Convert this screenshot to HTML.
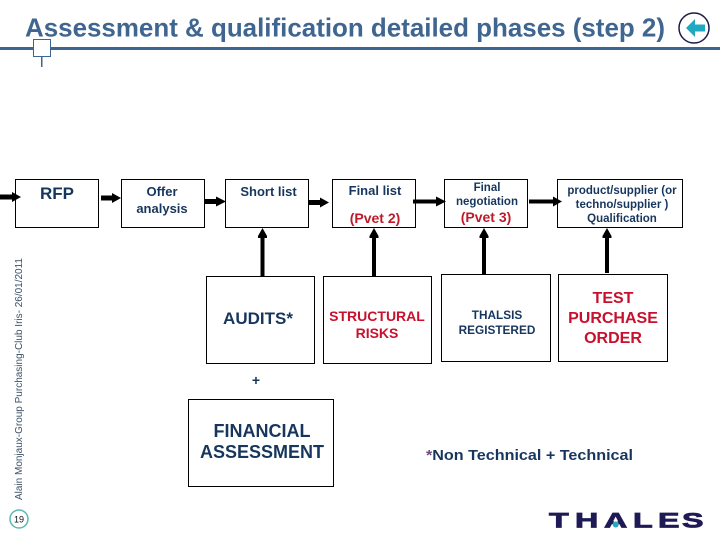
<!DOCTYPE html>
<html><head><meta charset="utf-8"><style>html,body{margin:0;padding:0;background:#fff}svg{display:block}text{font-family:"Liberation Sans",sans-serif}</style></head><body>
<svg width="720" height="540" viewBox="0 0 720 540" xmlns="http://www.w3.org/2000/svg">
<text x="25" y="36.500" font-size="26" font-weight="bold" fill="#3f6690" textLength="640" lengthAdjust="spacingAndGlyphs">Assessment &amp; qualification detailed phases (step 2)</text>
<rect x="0" y="47" width="720" height="3" fill="#3f6690"/>
<rect x="33.500" y="39.500" width="17" height="17" fill="#fff" stroke="#3f6690" stroke-width="1"/>
<rect x="41" y="57" width="1.500" height="10" fill="#3f6690"/>
<circle cx="694" cy="28" r="15" fill="#fff" stroke="#1c1c4a" stroke-width="1.500"/>
<path d="M686 28L695 19V24.500H705V31.500H695V37Z" fill="#1fa9c0"/>
<g fill="#fff" stroke="#000" stroke-width="1">
<rect x="15.500" y="179.500" width="83" height="48"/>
<rect x="121.500" y="179.500" width="83" height="48"/>
<rect x="225.500" y="179.500" width="83" height="48"/>
<rect x="332.500" y="179.500" width="83" height="48"/>
<rect x="444.500" y="179.500" width="83" height="48"/>
<rect x="557.500" y="179.500" width="125" height="48"/>
<rect x="206.500" y="276.500" width="108" height="87"/>
<rect x="323.500" y="276.500" width="108" height="87"/>
<rect x="441.500" y="274.500" width="109" height="87"/>
<rect x="558.500" y="274.500" width="109" height="87"/>
<rect x="188.500" y="399.500" width="145" height="87"/>
</g>
<g fill="#000">
<path d="M0 194.500H12V192L21 197L12 202V199.500H0Z"/>
<path d="M101 195.500H112V193L121 198L112 203V200.500H101Z"/>
<path d="M205 199H216V196.500L226 201.500L216 206.500V204H205Z"/>
<path d="M309 200H320V197.500L329 202.500L320 207.500V205H309Z"/>
<path d="M413 199.500H436V196.500L446 201.500L436 206.500V203.500H413Z"/>
<path d="M529 199.500H553V196.500L562 201.500L553 206.500V203.500H529Z"/>
<path d="M260.500 276V238H258V236L262.500 228L267 236V238H264.500V276Z"/>
<path d="M372 276V238H369.500V236L374 228L378.500 236V238H376V276Z"/>
<path d="M482 275V238H479.500V236L484 228L488.500 236V238H486V275Z"/>
<path d="M605 273V238H602.500V236L607 228L611.500 236V238H609V273Z"/>
</g>
<g text-anchor="middle" font-weight="bold">
<text x="57" y="199" font-size="17" fill="#17365d">RFP</text>
<text x="162" y="196" font-size="13" fill="#17365d">Offer</text>
<text x="162" y="213" font-size="13" fill="#17365d">analysis</text>
<text x="268.500" y="196" font-size="13" fill="#17365d">Short list</text>
<text x="375" y="195" font-size="13" fill="#17365d">Final list</text>
<text x="375" y="223" font-size="14" fill="#c01a2a">(Pvet 2)</text>
<text x="487" y="191" font-size="11.500" fill="#17365d">Final</text>
<text x="487" y="205" font-size="11.500" fill="#17365d">negotiation</text>
<text x="486" y="222" font-size="14" fill="#c01a2a">(Pvet 3)</text>
<text x="622" y="194" font-size="11.500" fill="#17365d">product/supplier (or</text>
<text x="622" y="208" font-size="11.500" fill="#17365d">techno/supplier )</text>
<text x="622" y="222" font-size="11.500" fill="#17365d">Qualification</text>
<text x="258" y="324" font-size="17" fill="#17365d">AUDITS*</text>
<text x="377" y="321" font-size="14" fill="#c8102e">STRUCTURAL</text>
<text x="377" y="338" font-size="14" fill="#c8102e">RISKS</text>
<text x="497" y="319" font-size="11.800" fill="#17365d">THALSIS</text>
<text x="497" y="334" font-size="11.800" fill="#17365d">REGISTERED</text>
<text x="613" y="303" font-size="16" fill="#c8102e">TEST</text>
<text x="613" y="323" font-size="16" fill="#c8102e">PURCHASE</text>
<text x="613" y="343" font-size="16" fill="#c8102e">ORDER</text>
<text x="256" y="385" font-size="14" fill="#17365d">+</text>
<text x="262" y="437" font-size="18" fill="#17365d">FINANCIAL</text>
<text x="262" y="458" font-size="18" fill="#17365d">ASSESSMENT</text>
</g>
<text x="426" y="460" font-size="15" font-weight="bold" fill="#17365d" textLength="207" lengthAdjust="spacingAndGlyphs"><tspan fill="#6b4a7a">*</tspan>Non Technical + Technical</text>
<text transform="translate(22 500) rotate(-90)" font-size="10" fill="#3a4f66" textLength="242" lengthAdjust="spacingAndGlyphs">Alain Monjaux-Group Purchasing-Club Iris- 26/01/2011</text>
<circle cx="19" cy="519" r="9" fill="#fff" stroke="#5cb8b2" stroke-width="1.500"/>
<text x="19" y="522.500" font-size="9" text-anchor="middle" fill="#111">19</text>
<text transform="scale(1.5 1)" x="366 383.300 402.700 422 438.700 454.700" y="527.500" font-size="21.500" font-weight="bold" fill="#1f1a55" stroke="#1f1a55" stroke-width="0.800">THALES</text>
<path d="M615.700 517.500L610.500 529H621Z" fill="#fff"/>
<circle cx="615.700" cy="524.500" r="3" fill="#2aa7bb"/>
</svg>
</body></html>
